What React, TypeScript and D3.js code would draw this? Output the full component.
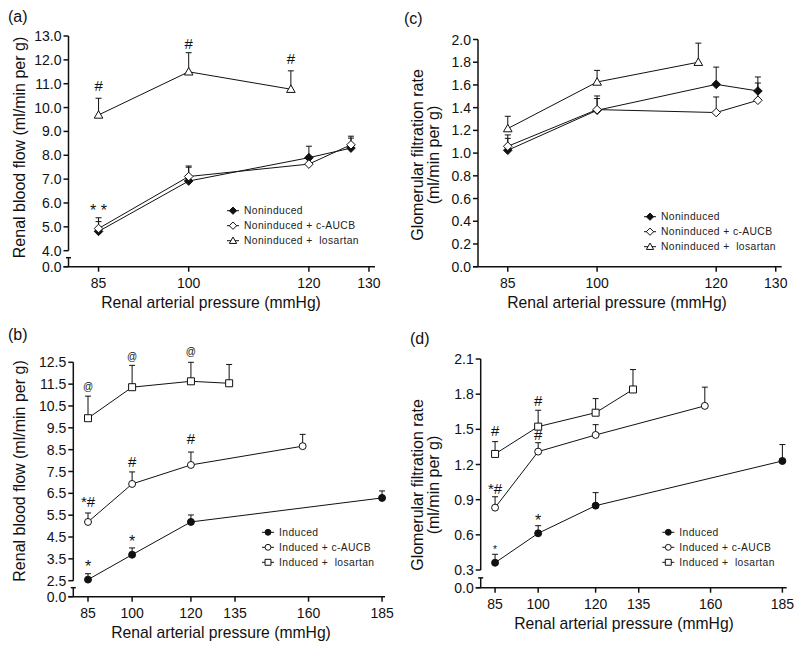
import React from "react";
import * as d3 from "d3";

// ---- (a) renal blood flow, noninduced
const aPressure = [85, 100, 120, 127];
const aLosPressure = [85, 100, 117];
const aNon = [4.81, 6.92, 7.9, 8.3];
const aNonErr = [5.22, 7.5, 8.38, 8.72];
const aAucb = [4.93, 7.11, 7.63, 8.44];
const aAucbErr = [5.38, 7.55, 7.63, 8.8];
const aLos = [9.69, 11.5, 10.77];
const aLosErr = [10.39, 12.3, 11.54];
const aYTicks = [0, 4, 5, 6, 7, 8, 9, 10, 11, 12, 13];
const aNotes = [
  { x: 85, y: 10.9, t: "#" },
  { x: 100, y: 12.66, t: "#" },
  { x: 117, y: 12.03, t: "#" },
  { x: 85, y: 5.84, t: "* *" },
];

// ---- (c) glomerular filtration rate, noninduced
const cNon = [1.025, 1.377, 1.605, 1.547];
const cNonErr = [1.13, 1.48, 1.757, 1.67];
const cAucb = [1.06, 1.383, 1.357, 1.465];
const cAucbErr = [1.16, 1.503, 1.494, 1.617];
const cLos = [1.216, 1.626, 1.8];
const cLosErr = [1.324, 1.728, 1.968];
const cYTicks = [0, 0.2, 0.4, 0.6, 0.8, 1.0, 1.2, 1.4, 1.6, 1.8, 2.0];

const xTicksNon = [85, 100, 120, 130];
const nonNames = ["Noninduced", "Noninduced + c-AUCB", "Noninduced +  losartan"];

// ---- (b) renal blood flow, induced
const indPressure = [85, 100, 120, 185];
const aucbPressure = [85, 100, 120, 158];
const losPressure = [85, 100, 120, 133];
const bInd = [2.55, 3.69, 5.19, 6.29];
const bIndErr = [2.82, 4.0, 5.51, 6.61];
const bAucb = [5.19, 6.93, 7.8, 8.66];
const bAucbErr = [5.6, 7.48, 8.39, 9.2];
const bLos = [9.94, 11.36, 11.63, 11.54];
const bLosErr = [10.95, 12.36, 12.5, 12.4];
const bYTicks = [0, 2.5, 3.5, 4.5, 5.5, 6.5, 7.5, 8.5, 9.5, 10.5, 11.5, 12.5];
const bNotes = [
  { x: 85, y: 11.39, t: "@" },
  { x: 100, y: 12.76, t: "@" },
  { x: 120, y: 12.99, t: "@" },
  { x: 85, y: 6.1, t: "*#" },
  { x: 100, y: 7.94, t: "#" },
  { x: 120, y: 8.99, t: "#" },
  { x: 85, y: 3.31, t: "*" },
  { x: 100, y: 4.46, t: "*" },
];

// ---- (d) glomerular filtration rate, induced
const dInd = [0.362, 0.613, 0.849, 1.23];
const dIndErr = [0.434, 0.678, 0.96, 1.37];
const dAucb = [0.832, 1.31, 1.452, 1.7];
const dAucbErr = [0.925, 1.386, 1.54, 1.86];
const dLos = [1.29, 1.523, 1.642, 1.84];
const dLosErr = [1.395, 1.663, 1.762, 2.01];
const dYTicks = [0, 0.3, 0.6, 0.9, 1.2, 1.5, 1.8, 2.1];
const dNotes = [
  { x: 85, y: 1.486, t: "#" },
  { x: 100, y: 1.742, t: "#" },
  { x: 100, y: 1.452, t: "#" },
  { x: 85, y: 0.991, t: "*#" },
  { x: 100, y: 0.752, t: "*" },
  { x: 85, y: 0.496, t: "*", small: true },
];

const xTicksInd = [85, 100, 120, 135, 160, 185];
const indNames = ["Induced", "Induced + c-AUCB", "Induced +  losartan"];

const FONT = "'Liberation Sans', Arial, Helvetica, sans-serif";
const INK = "#111";

function markerPath(shape, k = 1) {
  if (shape === "diamond") {
    const s = 4.3 * k;
    return `M0,${-s}L${s},0L0,${s}L${-s},0Z`;
  }
  if (shape === "triangle") {
    const h = 4.3 * k;
    return `M0,${-h}L${h},${h * 0.75}L${-h},${h * 0.75}Z`;
  }
  if (shape === "square") {
    const s = 3.5 * k;
    return `M${-s},${-s}H${s}V${s}H${-s}Z`;
  }
  return d3.symbol(d3.symbolCircle, 38 * k * k)();
}

function Marker({ shape, filled, k = 1 }) {
  return (
    <path
      d={markerPath(shape, k)}
      fill={filled ? INK : "#fff"}
      stroke={INK}
      strokeWidth={1}
    />
  );
}

function Panel({ cfg }) {
  const x = d3.scaleLinear().domain(cfg.xDomain).range(cfg.xRange);
  const y = d3.scaleLinear().domain(cfg.yDomain).range(cfg.yRange);
  const x0 = cfg.xRange[0];
  const y0 = cfg.yRange[0];
  const broken = cfg.yDomain.length === 3;
  const yMainBottom = broken ? y(cfg.yDomain[1]) : y0;
  const yTop = y(cfg.yDomain[cfg.yDomain.length - 1]);
  const breakTop = broken ? (y0 + yMainBottom) / 2 - 1 : 0;
  const fmt = d3.format(".1f");
  const line = d3
    .line<[number, number]>()
    .x((d) => x(d[0]))
    .y((d) => y(d[1]));

  // shift from glyph centre to baseline
  const noteShift = (t, small) => {
    if (t === "@") return 3;
    if (t.startsWith("*") && !t.includes("#")) return small ? 5.5 : 9;
    return 5.2;
  };
  const noteSize = (t, small) => {
    if (t === "@") return 10;
    if (small) return 10;
    if (t.includes("#")) return 15;
    return 16;
  };

  return (
    <g fontFamily={FONT}>
      <text x={cfg.tag[0]} y={cfg.tag[1]} fontSize={16} fill={INK}>
        {cfg.label}
      </text>

      {/* y axis */}
      <line x1={x0} x2={x0} y1={yMainBottom} y2={yTop} stroke={INK} strokeWidth={1.5} />
      {broken && (
        <g stroke={INK} strokeWidth={1.5}>
          <line x1={x0} x2={x0} y1={breakTop} y2={y0} />
          <line x1={x0 - 2.5} x2={x0 + 2.5} y1={breakTop} y2={breakTop} />
        </g>
      )}
      {cfg.yTicks.map((t) => (
        <g key={"y" + t}>
          <line x1={x0 - 5} x2={x0} y1={y(t)} y2={y(t)} stroke={INK} strokeWidth={1.5} />
          <text
            x={x0 - 7}
            y={y(t)}
            dy="0.36em"
            textAnchor="end"
            fontSize={14}
            fill={INK}
          >
            {fmt(t)}
          </text>
        </g>
      ))}

      {/* x axis */}
      <line x1={x0 - 5} x2={cfg.xRange[1]} y1={y0} y2={y0} stroke={INK} strokeWidth={1.5} />
      {cfg.xTicks.map((t) => (
        <g key={"x" + t}>
          <line x1={x(t)} x2={x(t)} y1={y0} y2={y0 + 5} stroke={INK} strokeWidth={1.5} />
          <text x={x(t)} y={y0 + 21} textAnchor="middle" fontSize={14} fill={INK}>
            {t}
          </text>
        </g>
      ))}
      <text
        x={cfg.xLabelAt}
        y={y0 + 41}
        textAnchor="middle"
        fontSize={15.7}
        fill={INK}
      >
        Renal arterial pressure (mmHg)
      </text>
      <text
        transform={`translate(${cfg.yLabelAt[0]},${cfg.yLabelAt[1]}) rotate(-90)`}
        textAnchor="middle"
        fontSize={16}
        fill={INK}
      >
        {cfg.yLabel.map((s, i) => (
          <tspan key={i} x={0} dy={i === 0 ? (cfg.yLabel.length > 1 ? "-0.15em" : "0.35em") : "1.05em"}>
            {s}
          </tspan>
        ))}
      </text>

      {/* error bars and lines */}
      {cfg.series.map((s, si) => {
        const pts = s.x.map((v, i) => [v, s.y[i]] as [number, number]);
        return (
          <g key={"s" + si}>
            {s.err.map((e, i) =>
              e == null ? null : (
                <g key={i} stroke={INK} strokeWidth={1}>
                  <line x1={x(s.x[i])} x2={x(s.x[i])} y1={y(s.y[i])} y2={y(e)} />
                  <line x1={x(s.x[i]) - 3} x2={x(s.x[i]) + 3} y1={y(e)} y2={y(e)} />
                </g>
              )
            )}
            <path d={line(pts) ?? ""} fill="none" stroke={INK} strokeWidth={1} />
          </g>
        );
      })}
      {cfg.series.map((s, si) => (
        <g key={"m" + si}>
          {s.x.map((v, i) => (
            <g key={i} transform={`translate(${x(v)},${y(s.y[i])})`}>
              <Marker shape={s.shape} filled={s.filled} />
            </g>
          ))}
        </g>
      ))}

      {/* significance marks */}
      {cfg.notes.map((n, i) => (
        <text
          key={"n" + i}
          x={x(n.x)}
          y={y(n.y) + noteShift(n.t, n.small)}
          textAnchor="middle"
          fontSize={noteSize(n.t, n.small)}
          fill={INK}
          style={{ whiteSpace: "pre" }}
        >
          {n.t}
        </text>
      ))}

      {/* legend */}
      {cfg.series.map((s, i) => {
        const ly = cfg.legend[1] + i * 15;
        return (
          <g key={"l" + i}>
            <line x1={cfg.legend[0] - 6} x2={cfg.legend[0] + 6} y1={ly} y2={ly} stroke={INK} strokeWidth={1} />
            <g transform={`translate(${cfg.legend[0]},${ly})`}>
              <Marker shape={s.shape} filled={s.filled} k={0.85} />
            </g>
            <text
              x={cfg.legend[0] + 11}
              y={ly}
              dy="0.35em"
              fontSize={10.3}
              letterSpacing={0.4}
              fill="#222"
              style={{ whiteSpace: "pre" }}
            >
              {s.name}
            </text>
          </g>
        );
      })}
    </g>
  );
}

const panels = [
  {
    label: "(a)",
    tag: [8, 22],
    xDomain: [80, 131],
    xRange: [68.5, 375],
    yDomain: [0, 4, 13],
    yRange: [266.7, 250.7, 36],
    yTicks: aYTicks,
    xTicks: xTicksNon,
    xLabelAt: 211,
    yLabel: ["Renal blood flow (ml/min per g)"],
    yLabelAt: [19, 147.5],
    legend: [233, 210.7],
    notes: aNotes,
    series: [
      { x: aPressure, y: aNon, err: aNonErr, shape: "diamond", filled: true, name: nonNames[0] },
      { x: aPressure, y: aAucb, err: aAucbErr, shape: "diamond", filled: false, name: nonNames[1] },
      { x: aLosPressure, y: aLos, err: aLosErr, shape: "triangle", filled: false, name: nonNames[2] },
    ],
  },
  {
    label: "(c)",
    tag: [404, 24],
    xDomain: [80, 131],
    xRange: [478, 781.7],
    yDomain: [0, 2],
    yRange: [266.7, 39.5],
    yTicks: cYTicks,
    xTicks: xTicksNon,
    xLabelAt: 617,
    yLabel: ["Glomerular filtration rate", "(ml/min per g)"],
    yLabelAt: [425, 155],
    legend: [650, 216.7],
    notes: [],
    series: [
      { x: aPressure, y: cNon, err: cNonErr, shape: "diamond", filled: true, name: nonNames[0] },
      { x: aPressure, y: cAucb, err: cAucbErr, shape: "diamond", filled: false, name: nonNames[1] },
      { x: aLosPressure, y: cLos, err: cLosErr, shape: "triangle", filled: false, name: nonNames[2] },
    ],
  },
  {
    label: "(b)",
    tag: [8, 340],
    xDomain: [80, 186],
    xRange: [73.3, 385],
    yDomain: [0, 2.5, 12.5],
    yRange: [596.7, 580.7, 362.3],
    yTicks: bYTicks,
    xTicks: xTicksInd,
    xLabelAt: 221,
    yLabel: ["Renal blood flow (ml/min per g)"],
    yLabelAt: [19, 471],
    legend: [268, 532.3],
    notes: bNotes,
    series: [
      { x: indPressure, y: bInd, err: bIndErr, shape: "circle", filled: true, name: indNames[0] },
      { x: aucbPressure, y: bAucb, err: bAucbErr, shape: "circle", filled: false, name: indNames[1] },
      { x: losPressure, y: bLos, err: bLosErr, shape: "square", filled: false, name: indNames[2] },
    ],
  },
  {
    label: "(d)",
    tag: [410, 344],
    xDomain: [80, 186.5],
    xRange: [480.7, 786.7],
    yDomain: [0, 0.3, 2.1],
    yRange: [587.7, 570, 359],
    yTicks: dYTicks,
    xTicks: xTicksInd,
    xLabelAt: 624,
    yLabel: ["Glomerular filtration rate", "(ml/min per g)"],
    yLabelAt: [425, 485],
    legend: [668.3, 532.3],
    notes: dNotes,
    series: [
      { x: indPressure, y: dInd, err: dIndErr, shape: "circle", filled: true, name: indNames[0] },
      { x: aucbPressure, y: dAucb, err: dAucbErr, shape: "circle", filled: false, name: indNames[1] },
      { x: losPressure, y: dLos, err: dLosErr, shape: "square", filled: false, name: indNames[2] },
    ],
  },
];

export default function App() {
  return (
    <svg
      width={800}
      height={650}
      style={{ position: "absolute", left: 0, top: 0, background: "#fff" }}
    >
      <rect width={800} height={650} fill="#fff" />
      {panels.map((p) => (
        <Panel key={p.label} cfg={p} />
      ))}
    </svg>
  );
}
